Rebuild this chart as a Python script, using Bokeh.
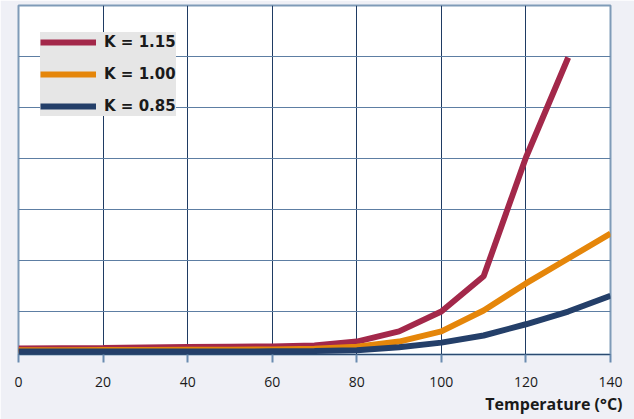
from bokeh.plotting import figure
from bokeh.models import Legend, LegendItem, FixedTicker, Range1d, Title
from bokeh.embed import file_html
from bokeh.resources import INLINE

# Data
temps = [0, 10, 20, 30, 40, 50, 60, 70, 80, 90, 100, 110, 120, 130, 140]
k115 = [-7.25, -7.2, -7.15, -7.05, -6.95, -6.9, -6.85, -6.65, -5.9, -3.9, 0.0, 6.9, 30.2, 49.8]
k100 = [-7.6, -7.6, -7.55, -7.55, -7.5, -7.5, -7.45, -7.3, -6.9, -5.9, -3.9, 0.2, 5.5, 10.4, 15.3]
k085 = [-7.85, -7.85, -7.85, -7.85, -7.85, -7.85, -7.8, -7.75, -7.6, -7.0, -6.1, -4.7, -2.5, 0.0, 3.1]
x_ticks = [0, 20, 40, 60, 80, 100, 120, 140]
y_grid = [0, 10, 20, 30, 40, 50, 60]
series_labels = ["K = 1.15", "K = 1.00", "K = 0.85"]

BG = "#eff0f6"
RED = "#a3284a"
ORANGE = "#e5860a"
NAVY = "#243f69"

p = figure(width=634, height=419, output_backend="svg", toolbar_location=None,
           x_range=Range1d(0, 140), y_range=Range1d(-8.43, 60),
           min_border_left=18, min_border_right=24, min_border_top=5, min_border_bottom=65)
p.border_fill_color = BG
p.background_fill_color = "white"
p.outline_line_color = "#7f9bb8"
p.outline_line_width = 2

p.yaxis.visible = False
p.xaxis.ticker = FixedTicker(ticks=x_ticks)
p.yaxis.ticker = FixedTicker(ticks=y_grid)
p.xgrid.ticker = FixedTicker(ticks=x_ticks)
p.ygrid.ticker = FixedTicker(ticks=y_grid)
p.xgrid.grid_line_color = "#1f3b63"
p.ygrid.grid_line_color = "#5d7ea3"
p.xgrid.grid_line_width = 1
p.ygrid.grid_line_width = 1

ax = p.xaxis[0]
ax.axis_line_color = "#2b4a70"
ax.axis_line_width = 1
ax.major_tick_line_color = "#6a8bb0"
ax.major_tick_line_width = 2
ax.major_tick_out = 8
ax.major_tick_in = 0
ax.minor_tick_line_color = None
ax.major_label_text_font = "Open Sans"
ax.major_label_text_font_size = "14px"
ax.major_label_text_color = "#1a1a1a"
ax.major_label_standoff = 14

r1 = p.line(temps[:len(k115)], k115, line_color=RED, line_width=6)
r2 = p.line(temps, k100, line_color=ORANGE, line_width=6)
r3 = p.line(temps, k085, line_color=NAVY, line_width=6)

legend = Legend(items=[LegendItem(label=series_labels[0], renderers=[r1]),
                       LegendItem(label=series_labels[1], renderers=[r2]),
                       LegendItem(label=series_labels[2], renderers=[r3])],
                location=(22, 238))
legend.background_fill_color = "#e6e6e6"
legend.background_fill_alpha = 1
legend.border_line_color = None
legend.padding = 3
legend.spacing = 12
legend.glyph_height = 20
legend.label_height = 20
legend.glyph_width = 56
legend.label_standoff = 8
legend.label_text_font = "DejaVu Sans"
legend.label_text_font_style = "bold"
legend.label_text_font_size = "15px"
legend.label_text_color = "#1a1a1a"
p.add_layout(legend, "center")

t = Title(text="Temperature (°C)", align="right", text_font="Open Sans",
          text_font_style="bold", text_font_size="16px", text_color="#1a1a1a",
          offset=-12, standoff=2)
p.add_layout(t, "below")

open("out.html", "w").write(file_html(p, INLINE))
